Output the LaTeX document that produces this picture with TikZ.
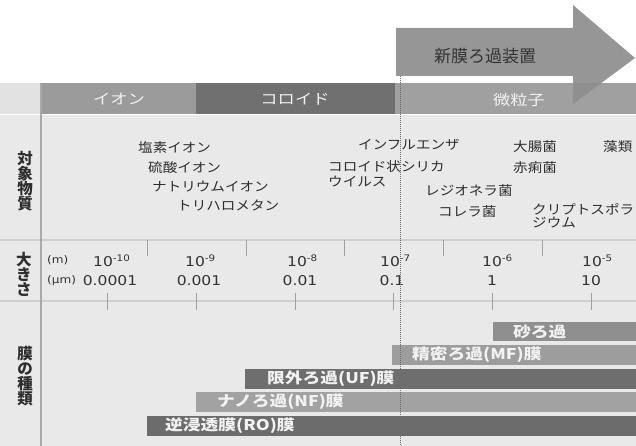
\documentclass[tikz,border=0pt]{standalone}
\usepackage{fontspec}
\newfontfamily\jp[FakeStretch=1.2]{Noto Sans CJK JP}
\newfontfamily\jpo[FakeStretch=1.12]{Noto Sans CJK JP}
\newfontfamily\jpn{Noto Sans CJK JP}
\newfontfamily\num[FakeStretch=1.15]{DejaVu Sans}
\definecolor{tablebg}{HTML}{E9E9E9}
\definecolor{hdrleft}{HTML}{E2E2E2}
\definecolor{ionc}{HTML}{9B9B9B}
\definecolor{colc}{HTML}{707070}
\definecolor{fpc}{HTML}{A0A0A0}
\definecolor{sepc}{HTML}{CFCFCF}
\definecolor{linec}{HTML}{A9A9A9}
\definecolor{tickc}{HTML}{A0A0A0}
\definecolor{txtc}{HTML}{2E2E2E}
\definecolor{numc}{HTML}{333333}
\definecolor{arrowc}{HTML}{8E8E8E}
\definecolor{sandc}{HTML}{8F8F8F}
\definecolor{mfc}{HTML}{9D9D9D}
\definecolor{ufc}{HTML}{6E6E6E}
\definecolor{nfc}{HTML}{A2A2A2}
\definecolor{roc}{HTML}{6C6C6C}
\definecolor{lighttxt}{HTML}{F2F2F2}
\newcommand{\tenexp}[1]{10\raisebox{5.5pt}{\fontsize{9}{9}\selectfont #1}}
\begin{document}
\begin{tikzpicture}[x=1pt,y=-1pt,
  obj/.style={anchor=west, inner sep=0pt, font=\jpo\fontsize{13}{15}\selectfont, text=txtc},
  barlbl/.style={anchor=west, inner sep=0pt, font=\jp\bfseries\fontsize{14.8}{16}\selectfont, text=lighttxt},
  hdr/.style={inner sep=0pt, font=\jp\fontsize{14.4}{16}\selectfont, text=lighttxt},
  side/.style={inner sep=0pt, align=center, font=\jpn\bfseries\fontsize{15.5}{15}\selectfont, text=txtc},
  unitlbl/.style={anchor=west, inner sep=0pt, font=\num\fontsize{10.5}{12}\selectfont, text=numc},
  explbl/.style={anchor=west, inner sep=0pt, font=\num\fontsize{13.5}{14}\selectfont, text=numc},
  vallbl/.style={inner sep=0pt, font=\num\fontsize{13.5}{14}\selectfont, text=numc},
  sep/.style={draw=sepc, line width=1.2pt},
  tickline/.style={draw=tickc, line width=1pt}
]
\useasboundingbox (0,0) rectangle (636,446);
\fill[white] (0,0) rectangle (636,446);
\fill[tablebg] (0,114) rectangle (636,446);
% header band
\fill[hdrleft] (0,83) rectangle (41,114);
\fill[ionc] (41,83) rectangle (196,114);
\fill[colc] (196,83) rectangle (395,114);
\fill[fpc] (395,83) rectangle (636,114);
\draw[white, line width=1pt] (0,114.8) -- (636,114.8);
\node[hdr] (ion) at (119,99) {イオン};
\node[hdr] (colloid) at (295,99) {コロイド};
\node[hdr] (fine) at (519,100) {微粒子};
% separators
\draw[sep] (0,240) -- (636,240);
\draw[sep] (0,301) -- (636,301);
\draw[draw=linec, line width=1.2pt] (41,83) -- (41,446);
% ticks
\foreach \tx in {147,246,344,443,542} \draw[tickline] (\tx,240) -- (\tx,256);
\foreach \tx in {107,196,295,393,492,591} \draw[tickline] (\tx,293) -- (\tx,310);
% left labels
\node[side] (lab1) at (25,181) {対\\象\\物\\質};
\node[side] (lab2) at (24,274) {大\\き\\さ};
\node[side] (lab3) at (25,376) {膜\\の\\種\\類};
% objects
\node[obj] (o1) at (138,148) {塩素イオン};
\node[obj] (o2) at (148,168) {硫酸イオン};
\node[obj] (o3) at (152,187) {ナトリウムイオン};
\node[obj] (o4) at (177,205) {トリハロメタン};
\node[obj] (o5) at (358,145) {インフルエンザ};
\node[obj] (o6) at (328,167) {コロイド状シリカ};
\node[obj] (o7) at (328,182) {ウイルス};
\node[obj] (o8) at (425,191) {レジオネラ菌};
\node[obj] (o9) at (438,212) {コレラ菌};
\node[obj] (o10) at (513,147) {大腸菌};
\node[obj] (o11) at (513,168) {赤痢菌};
\node[obj] (o12) at (603,147) {藻類};
\node[obj] (o13) at (532,209) {クリプトスポラ};
\node[obj] (o14) at (532,223) {ジウム};
% size scale
\node[unitlbl] (um) at (47,260) {(m)};
\node[unitlbl] (uum) at (47,281) {(µm)};
\node[explbl] (e10) at (93,261) {\tenexp{-10}};
\node[explbl] (e9) at (185,261) {\tenexp{-9}};
\node[explbl] (e8) at (287,261) {\tenexp{-8}};
\node[explbl] (e7) at (380,261) {\tenexp{-7}};
\node[explbl] (e6) at (482,261) {\tenexp{-6}};
\node[explbl] (e5) at (582,261) {\tenexp{-5}};
\node[vallbl] (v1) at (110,281) {0.0001};
\node[vallbl] (v2) at (199,281) {0.001};
\node[vallbl] (v3) at (300,281) {0.01};
\node[vallbl] (v4) at (392,281) {0.1};
\node[vallbl] (v5) at (492,281) {1};
\node[vallbl] (v6) at (591,281) {10};
% membrane bars
\fill[sandc] (493,322) rectangle (636,341);
\fill[mfc] (392,345) rectangle (636,365);
\fill[ufc] (245,369) rectangle (636,389);
\fill[nfc] (196,392) rectangle (636,412);
\fill[roc] (147,416) rectangle (636,436);
\node[barlbl] (b1) at (513,331.5) {砂ろ過};
\node[barlbl] (b2) at (412,355) {精密ろ過(MF)膜};
\node[barlbl] (b3) at (267,379) {限外ろ過(UF)膜};
\node[barlbl] (b4) at (217,402) {ナノろ過(NF)膜};
\node[barlbl] (b5) at (165,426) {逆浸透膜(RO)膜};
% dashed boundary
\draw[draw=black!58, line width=1pt, dash pattern=on 1.2pt off 0.8pt] (400,76) -- (400,446);
% arrow
\fill[arrowc, opacity=0.92] (396,28) -- (573,28) -- (573,5) -- (635,58) -- (573,104) -- (573,76) -- (396,76) -- cycle;
\node[inner sep=0pt, font=\jpn\fontsize{17}{18}\selectfont, text=black!80] (newdev) at (485,56) {新膜ろ過装置};
\end{tikzpicture}
\end{document}
